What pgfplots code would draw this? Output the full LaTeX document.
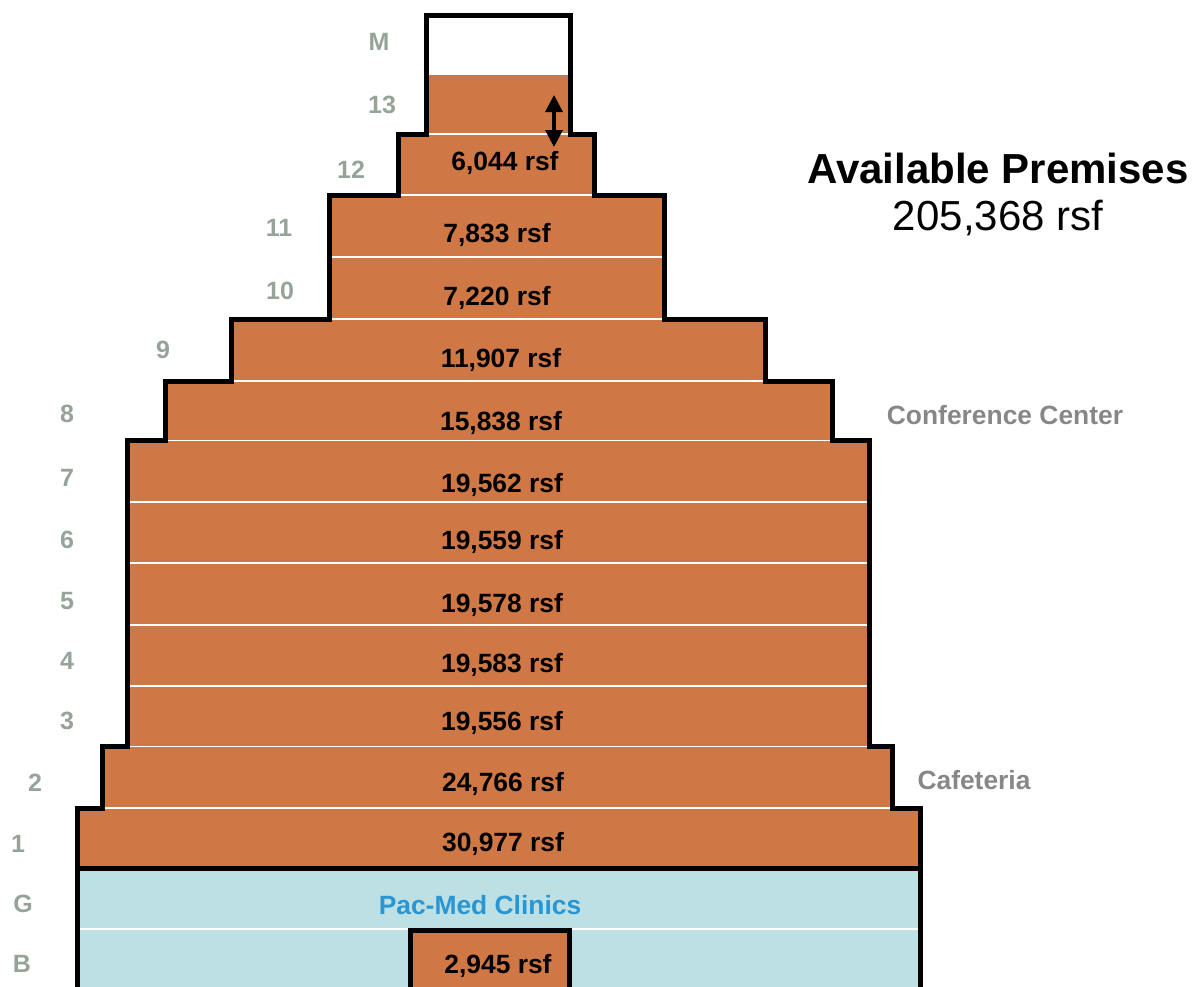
\documentclass[border=0pt]{standalone}
\usepackage{fontspec}
\setmainfont{Liberation Sans}
\usepackage{pgfplots}
\pgfplotsset{compat=1.18}
\usepackage{pgfplotstable}
\usetikzlibrary{arrows.meta}

\definecolor{space}{RGB}{207,120,69}
\definecolor{clinic}{RGB}{189,224,228}
\definecolor{flr}{RGB}{149,163,152}
\definecolor{note}{RGB}{135,135,135}
\definecolor{pacmed}{RGB}{41,150,211}

% floor areas (rsf), label position in picture units
\pgfplotstableread{
x   y   rsf
505 163 6044
497 235 7833
497 298 7220
501 360 11907
501 423 15838
502 485 19562
502 542 19559
502 605 19578
502 665 19583
502 723 19556
503 784 24766
503 844 30977
498 966 2945
}\floorarea

\pgfplotstableread{
x   y   name
379 42  M
382 105 13
351 170 12
279 228 11
280 291 10
163 350 9
67  414 8
67  478 7
67  540 6
67  601 5
67  661 4
67  721 3
35  783 2
18  844 1
23  904 G
22  964 B
}\floornames

\begin{document}
\begin{tikzpicture}
\begin{axis}[
    width=598.5pt, height=493pt, scale only axis,
    xmin=0, xmax=1197, ymin=0, ymax=986,
    y dir=reverse,
    hide axis,
    /pgf/number format/assume math mode=true,
]
% floors: (left,top) (right,top) (right,bottom) (left,bottom)
\pgfplotsset{floor/.style={fill=space, draw=white, line width=0.7pt}}
\addplot[floor] coordinates {(426.5,74) (570,74) (570,134) (426.5,134)} --cycle;    % 13
\addplot[floor] coordinates {(398,134) (594.5,134) (594.5,195) (398,195)} --cycle;  % 12
\addplot[floor] coordinates {(329,195) (664,195) (664,257) (329,257)} --cycle;      % 11
\addplot[floor] coordinates {(329,257) (664,257) (664,319) (329,319)} --cycle;      % 10
\addplot[floor] coordinates {(231,319) (765,319) (765,381) (231,381)} --cycle;      % 9
\addplot[floor] coordinates {(165,381) (832,381) (832,440.5) (165,440.5)} --cycle;  % 8
\addplot[floor] coordinates {(127,440.5) (869,440.5) (869,502) (127,502)} --cycle;  % 7
\addplot[floor] coordinates {(127,502) (869,502) (869,563) (127,563)} --cycle;      % 6
\addplot[floor] coordinates {(127,563) (869,563) (869,625) (127,625)} --cycle;      % 5
\addplot[floor] coordinates {(127,625) (869,625) (869,686) (127,686)} --cycle;      % 4
\addplot[floor] coordinates {(127,686) (869,686) (869,746.5) (127,746.5)} --cycle;  % 3
\addplot[floor] coordinates {(102.5,746.5) (892,746.5) (892,808) (102.5,808)} --cycle; % 2
\addplot[floor] coordinates {(77.5,808) (920,808) (920,868.5) (77.5,868.5)} --cycle;   % 1
\addplot[floor, fill=clinic] coordinates {(77.5,868.5) (920,868.5) (920,929) (77.5,929)} --cycle; % G
\addplot[floor, fill=clinic] coordinates {(77.5,929) (920,929) (920,995) (77.5,995)} --cycle;     % B
\addplot[floor, draw=none] coordinates {(410.5,930.5) (569.5,930.5) (569.5,995) (410.5,995)} --cycle; % B space

% building outline
\addplot[black, line width=2.5pt, line join=miter] coordinates {
(77.5,995) (77.5,808) (102.5,808) (102.5,746.5) (127,746.5) (127,440.5)
(165,440.5) (165,381) (231,381) (231,319) (329,319) (329,195) (398,195)
(398,134) (426.5,134) (426.5,15) (570,15) (570,134) (594.5,134) (594.5,195)
(664,195) (664,319) (765,319) (765,381) (832,381) (832,440.5) (869,440.5)
(869,746.5) (892,746.5) (892,808) (920,808) (920,995)};
\addplot[black, line width=2.5pt] coordinates {(77.5,868.5) (920,868.5)};
\addplot[black, line width=2.5pt, line join=miter] coordinates {(410.5,995) (410.5,930.5) (569.5,930.5) (569.5,995)};

% ceiling height arrow
\addplot[black, line width=1.7pt, {Triangle[width=8.5pt,length=8.5pt]}-{Triangle[width=8.5pt,length=8.5pt]}]
    coordinates {(554,95) (554,147)};

% area labels
\addplot[draw=none, mark=none, point meta=explicit,
    nodes near coords={\pgfmathprintnumber[fixed, precision=0, 1000 sep={,}]{\pgfplotspointmeta}~rsf},
    nodes near coords align=center,
    every node near coord/.append style={font=\fontsize{13.2}{15}\bfseries\selectfont, text=black, inner sep=0pt}]
    table[x=x, y=y, meta=rsf] {\floorarea};

% floor names
\addplot[draw=none, mark=none, point meta=explicit symbolic,
    nodes near coords, nodes near coords align=center,
    every node near coord/.append style={font=\fontsize{12.5}{14}\bfseries\selectfont, text=flr, inner sep=0pt}]
    table[x=x, y=y, meta=name] {\floornames};

\node[font=\fontsize{13.2}{15}\bfseries\selectfont, text=pacmed] at (axis cs:480,905) {Pac-Med Clinics};
\node[font=\fontsize{13.2}{15}\bfseries\selectfont, text=note] at (axis cs:1005,415) {Conference Center};
\node[font=\fontsize{13.2}{15}\bfseries\selectfont, text=note] at (axis cs:974,780) {Cafeteria};
\node[font=\fontsize{21}{24}\bfseries\selectfont] at (axis cs:998,168) {Available Premises};
\node[font=\fontsize{21}{24}\selectfont] at (axis cs:998,218) {205,368 rsf};
\end{axis}
\pgfresetboundingbox
\useasboundingbox (current axis.south west) rectangle (current axis.north east);
\end{tikzpicture}
\end{document}
